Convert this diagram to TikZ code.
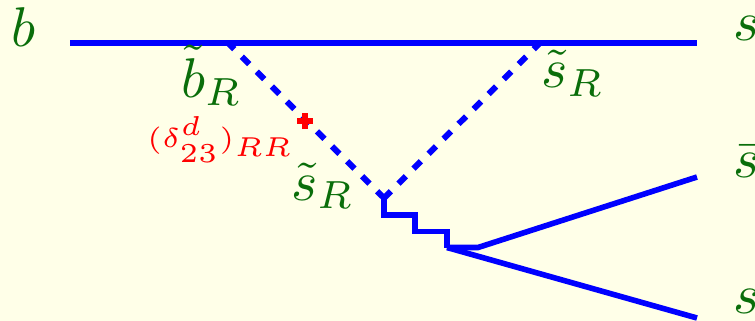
\documentclass[tikz,border=0pt]{standalone}
\definecolor{bgc}{HTML}{FFFFE8}
\definecolor{lbl}{HTML}{0A6E0A}
\begin{document}
\begin{tikzpicture}[x=1pt,y=-1pt,
  lab/.style={text=lbl,scale=5.6,inner sep=0pt,outer sep=0pt},
  redlab/.style={text=red,scale=5.47,inner sep=0pt,outer sep=0pt},
  fermion/.style={draw=blue,line width=5.6pt},
  squark/.style={draw=blue,line width=6pt,dash pattern=on 10.5pt off 10.7pt,dash phase=1.75pt},
  gluon/.style={draw=blue,line width=5.6pt,line join=miter}]
\useasboundingbox (0,0) rectangle (755,321);
\fill[bgc] (0,0) rectangle (755,321);
\clip (0,0) rectangle (755,321);
\coordinate (bin) at (70,43);
\coordinate (sout) at (697,43);
\coordinate (v1) at (228,43);
\coordinate (v2) at (540,43);
\coordinate (v3) at (384,198);
\coordinate (g1) at (384,215);
\coordinate (g2) at (415,215);
\coordinate (g3) at (415,231.5);
\coordinate (g4) at (447,231.5);
\coordinate (v4) at (447,247.5);
\coordinate (k) at (478,247.5);
\coordinate (sbar) at (697,177);
\coordinate (s2) at (697,318);
\coordinate (x) at (305,121);
\path[fermion] (bin) -- (sout);
\path[squark] (v1) -- (v3);
\path[squark] (v2) -- (v3);
\path[gluon] (v3) -- (g1) -- (g2) -- (g3) -- (g4) -- (v4);
\path[fermion] (v4) -- (k) -- (sbar);
\path[fermion] (v4) -- (s2);
\draw[red,line width=6pt] ([xshift=-8pt]x) -- ([xshift=8pt]x) ([yshift=-8pt]x) -- ([yshift=8pt]x);
\node[lab,anchor=base west] (lb) at (11,47) {$b$};
\node[lab,anchor=base west] (ls1) at (733,41) {$s$};
\node[lab,anchor=base west] (ls2) at (733,177) {$\bar s$};
\node[lab,anchor=base west] (ls3) at (733,313) {$s$};
\node[lab,anchor=base west] (lbR) at (181,97) {$\tilde b_R$};
\node[lab,anchor=base west] (lsR1) at (541,88) {$\tilde s_R$};
\node[lab,anchor=base west] (lsR2) at (291,200) {$\tilde s_R$};
\node[redlab,anchor=base west] (ld) at (147,147) {$\scriptscriptstyle(\delta^d_{23})_{RR}$};
\end{tikzpicture}
\end{document}
